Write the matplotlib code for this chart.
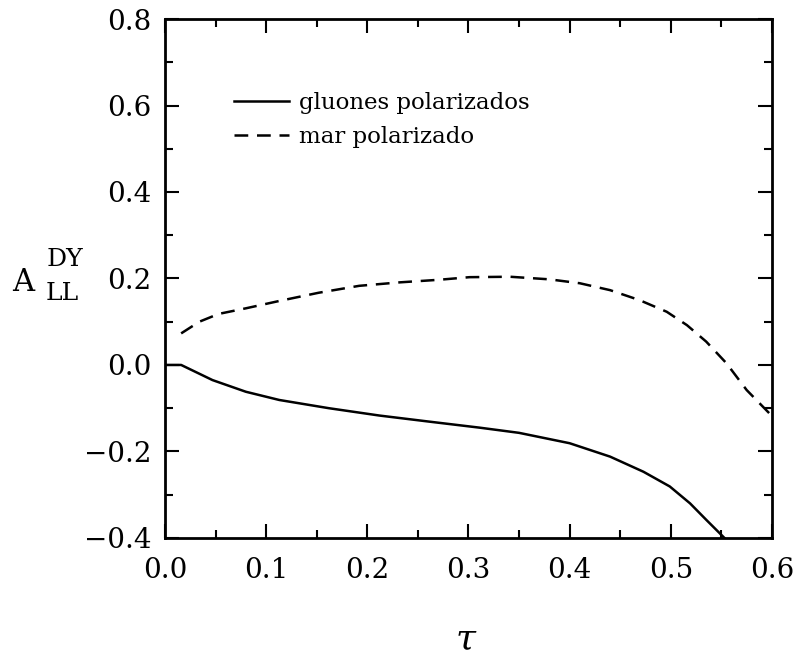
import matplotlib
matplotlib.use("Agg")
import matplotlib.pyplot as plt
from matplotlib.ticker import MultipleLocator

# values
gluon_tau = [0.0, 0.016, 0.047, 0.080, 0.113, 0.162, 0.212, 0.261, 0.311,
             0.350, 0.400, 0.440, 0.473, 0.499, 0.519, 0.535, 0.553]
gluon_a = [0.0, 0.0, -0.035, -0.062, -0.081, -0.100, -0.117, -0.131, -0.145,
           -0.157, -0.181, -0.212, -0.247, -0.281, -0.320, -0.358, -0.400]

sea_tau = [0.016, 0.034, 0.053, 0.080, 0.113, 0.152, 0.192, 0.232, 0.271,
           0.301, 0.341, 0.380, 0.410, 0.440, 0.469, 0.496, 0.516, 0.535,
           0.555, 0.575, 0.600]
sea_a = [0.073, 0.100, 0.118, 0.131, 0.148, 0.167, 0.183, 0.191, 0.197,
         0.203, 0.204, 0.198, 0.189, 0.173, 0.150, 0.123, 0.092, 0.054,
         0.004, -0.058, -0.118]

labels = ["gluones polarizados", "mar polarizado"]

plt.rcParams['font.family'] = ['DejaVu Serif']

fig = plt.figure(figsize=(7.95, 6.56), dpi=100)
ax = fig.add_axes([0.2075, 0.180, 0.7635, 0.791])

ax.plot(gluon_tau, gluon_a, color='black', lw=1.8, label=labels[0])
ax.plot(sea_tau, sea_a, color='black', lw=1.8, dashes=(5.5, 3.5), label=labels[1])

ax.set_xlim(0.0, 0.6)
ax.set_ylim(-0.4, 0.8)
ax.xaxis.set_major_locator(MultipleLocator(0.1))
ax.xaxis.set_minor_locator(MultipleLocator(0.05))
ax.yaxis.set_major_locator(MultipleLocator(0.2))
ax.yaxis.set_minor_locator(MultipleLocator(0.1))
ax.xaxis.set_major_formatter(lambda v, p: "%.1f" % v)
ax.yaxis.set_major_formatter(lambda v, p: ("%.1f" % v).replace("-", "\u2212"))

ax.tick_params(which='both', direction='in', top=True, right=True,
               width=1.5, labelsize=20)
ax.tick_params(which='major', length=10)
ax.tick_params(which='minor', length=5.5)
ax.tick_params(axis='x', pad=14)
ax.tick_params(axis='y', pad=10)
for s in ax.spines.values():
    s.set_linewidth(2)

ax.legend(loc='upper left', bbox_to_anchor=(0.08, 0.90), frameon=False,
          fontsize=16.5, handlelength=2.4, handletextpad=0.45, labelspacing=0.55)

# y label: A with DY over LL
fig.text(0.029, 0.570, "A", fontsize=22, ha='center', va='center')
fig.text(0.081, 0.605, "DY", fontsize=18, ha='center', va='center')
fig.text(0.078, 0.552, "LL", fontsize=18, ha='center', va='center')

fig.text(0.586, 0.012, "\u03c4", fontsize=26, style='italic', ha='center', va='baseline')

fig.savefig("out.png", dpi=100)
